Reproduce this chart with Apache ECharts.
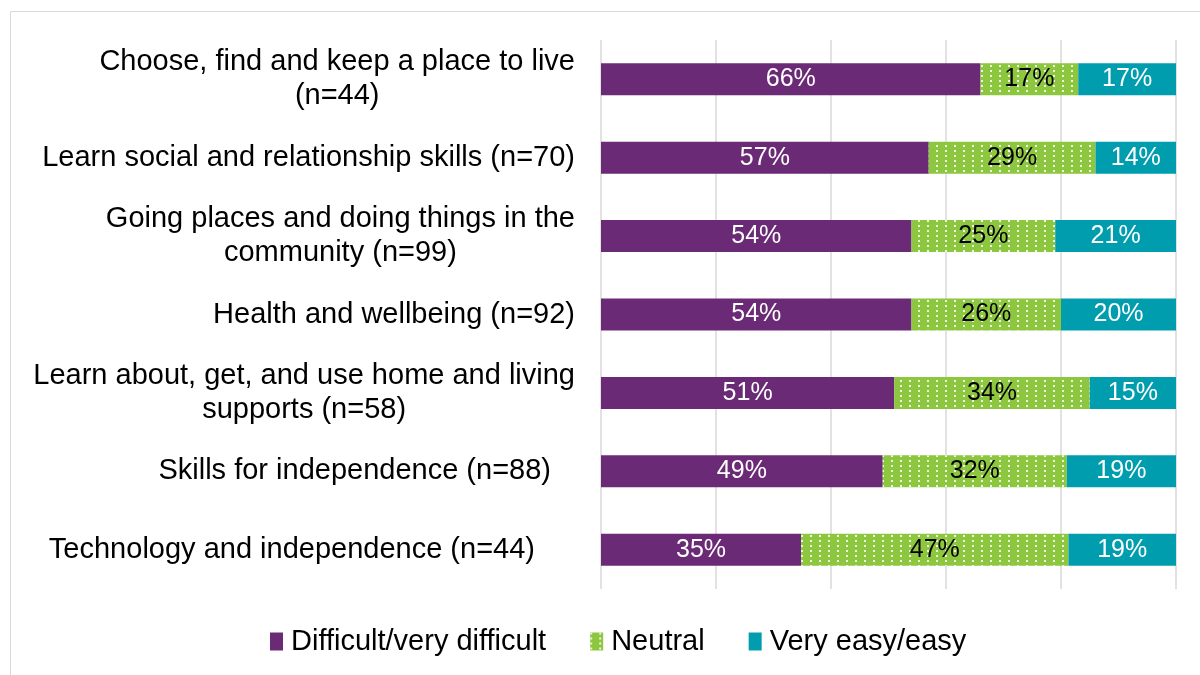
<!DOCTYPE html>
<html>
<head>
<meta charset="utf-8">
<script src="https://cdn.jsdelivr.net/npm/echarts@6/dist/echarts.min.js"></script>
<style>
  html, body { margin: 0; padding: 0; background: #fff; }
  #main { width: 1200px; height: 675px; }
</style>
</head>
<body>
<div id="main"></div>
<script>
// categories, top to bottom
var categories = [
  'Choose, find and keep a place to live\n(n=44)',
  'Learn social and relationship skills (n=70)',
  'Going places and doing things in the\ncommunity (n=99)',
  'Health and wellbeing (n=92)',
  'Learn about, get, and use home and living\nsupports (n=58)',
  'Skills for independence (n=88)',
  'Technology and independence (n=44)'
];
var seriesNames = ['Difficult/very difficult', 'Neutral', 'Very easy/easy'];
var difficult = [66, 57, 54, 54, 51, 49, 34.8];
var neutral = [17, 29, 25, 26, 34, 32, 46.5];
var easy = [17, 14, 21, 20, 15, 19, 18.7];
var xTicks = [0, 20, 40, 60, 80, 100];

// some labels sit a little left of the others in the original
var labelPad = [0, 0, 0, 0, 0, 24, 40];

var font = "'Liberation Sans', Arial, sans-serif";
var colors = ['#6B2A75', '#8DC63F', '#009DAE'];

var myChart = echarts.init(document.getElementById('main'));

var yData = [];
for (var i = 0; i < categories.length; i++) {
  yData.push({ value: categories[i], textStyle: { padding: [0, labelPad[i], 0, 0] } });
}

function barSeries(name, data, idx, labelColor, decal) {
  var s = {
    name: name,
    type: 'bar',
    stack: 'total',
    data: data,
    barWidth: 32,
    itemStyle: { color: colors[idx] },
    label: {
      show: true,
      position: 'inside',
      color: labelColor,
      fontSize: 25,
      fontFamily: font,
      formatter: function (p) { return Math.round(p.value) + '%'; }
    }
  };
  if (decal) s.itemStyle.decal = decal;
  return s;
}

var option = {
  backgroundColor: '#fff',
  animation: false,
  graphic: [{
    type: 'rect',
    shape: { x: 10.5, y: 11.5, width: 1300, height: 800 },
    style: { fill: 'none', stroke: '#d9d9d9', lineWidth: 1 },
    silent: true
  }],
  grid: { left: 601, right: 24, top: 40, bottom: 86, containLabel: false },
  legend: {
    bottom: 14,
    left: 265,
    itemWidth: 13,
    itemHeight: 18,
    itemGap: 44,
    icon: 'rect',
    textStyle: { fontSize: 29, fontFamily: font, color: '#000', padding: [0, 0, 0, 3] },
    data: seriesNames
  },
  xAxis: {
    type: 'value',
    min: xTicks[0],
    max: xTicks[xTicks.length - 1],
    interval: 20,
    axisLabel: { show: false },
    axisLine: { show: false },
    axisTick: { show: false },
    splitLine: { show: true, lineStyle: { color: '#d9d9d9', width: 1.5 } }
  },
  yAxis: {
    type: 'category',
    inverse: true,
    data: yData,
    axisLine: { show: false },
    axisTick: { show: false },
    axisLabel: {
      margin: 26,
      align: 'right',
      fontSize: 29,
      fontFamily: font,
      color: '#000',
      lineHeight: 34,
      formatter: function (v) {
        return v.split('\n').map(function (l) { return '{c|' + l + '}'; }).join('\n');
      },
      rich: {
        c: { align: 'center', fontSize: 29, fontFamily: font, color: '#000', lineHeight: 34 }
      }
    }
  },
  series: [
    barSeries(seriesNames[0], difficult, 0, '#fff'),
    barSeries(seriesNames[1], neutral, 1, '#000', {
      symbol: 'rect',
      symbolSize: 1,
      color: 'rgba(255,255,255,0.85)',
      dashArrayX: [1.5, 7],
      dashArrayY: [2, 3],
      rotation: 0
    }),
    barSeries(seriesNames[2], easy, 2, '#fff')
  ]
};

myChart.setOption(option);
</script>
</body>
</html>
